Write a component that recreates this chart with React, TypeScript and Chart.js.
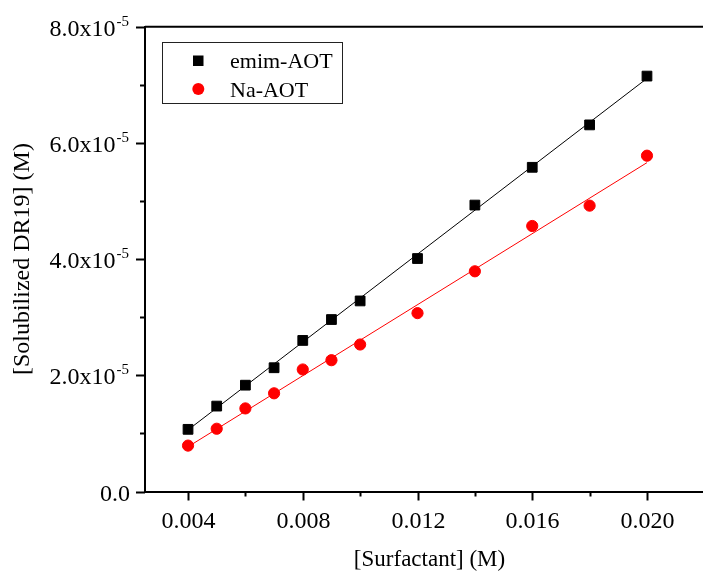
import React, { useEffect, useRef } from "react";
import { Chart, registerables } from "chart.js";

Chart.register(...registerables);

// ---- data (concentrations in M; solubilized DR19 in units of 1e-5 M) ----
const surfactant = [0.004, 0.005, 0.006, 0.007, 0.008, 0.009, 0.010, 0.012, 0.014, 0.016, 0.018, 0.020];
const emimAOT = [1.07, 1.47, 1.83, 2.13, 2.60, 2.96, 3.28, 4.01, 4.93, 5.58, 6.31, 7.15];
const naAOT = [0.79, 1.08, 1.43, 1.69, 2.10, 2.26, 2.53, 3.07, 3.79, 4.57, 4.92, 5.78];
const fitX = [0.004, 0.020];
const emimFit = [1.06, 7.11];
const naFit = [0.77, 5.66];
const Y_UNIT = 1e-5;

const seriesLabels = ["emim-AOT", "Na-AOT"];
const xTickValues = [0.004, 0.006, 0.008, 0.010, 0.012, 0.014, 0.016, 0.018, 0.020];
const xTickLabels = ["0.004", "", "0.008", "", "0.012", "", "0.016", "", "0.020"];
const yTickValues = [0, 1, 2, 3, 4, 5, 6, 7, 8];
const yTickLabels = ["0.0", "", "2.0", "", "4.0", "", "6.0", "", "8.0"];
const yExponent = "-5";
const xTitle = "[Surfactant] (M)";
const yTitle = "[Solubilized DR19] (M)";

const FONT = '"Liberation Serif", "Times New Roman", serif';

const decor = {
  id: "decor",
  afterDraw(chart: any) {
    const { ctx, chartArea } = chart;
    const xs = chart.scales.x;
    const ys = chart.scales.y;
    ctx.save();
    ctx.strokeStyle = "#000";
    ctx.fillStyle = "#000";

    // top frame line
    ctx.lineWidth = 2;
    ctx.beginPath();
    ctx.moveTo(chartArea.left, chartArea.top);
    ctx.lineTo(chartArea.right, chartArea.top);
    ctx.stroke();

    // x tick marks + labels
    xTickValues.forEach((v, i) => {
      const px = Math.round(xs.getPixelForValue(v)) + 0.5;
      const major = xTickLabels[i] !== "";
      ctx.lineWidth = 2;
      ctx.beginPath();
      ctx.moveTo(px, chartArea.bottom);
      ctx.lineTo(px, chartArea.bottom + (major ? 9 : 5));
      ctx.stroke();
      if (major) {
        ctx.font = `24px ${FONT}`;
        ctx.textAlign = "center";
        ctx.textBaseline = "alphabetic";
        ctx.fillText(xTickLabels[i], px, chartArea.bottom + 36);
      }
    });

    // y tick marks + labels
    yTickValues.forEach((v, i) => {
      const py = Math.round(ys.getPixelForValue(v * Y_UNIT)) + 0.5;
      const major = yTickLabels[i] !== "";
      ctx.lineWidth = 2;
      ctx.beginPath();
      ctx.moveTo(chartArea.left, py);
      ctx.lineTo(chartArea.left - (major ? 9 : 5), py);
      ctx.stroke();
      if (major) {
        ctx.textAlign = "right";
        ctx.textBaseline = "alphabetic";
        const rightX = chartArea.left - 16;
        if (v === 0) {
          ctx.font = `24px ${FONT}`;
          ctx.fillText(yTickLabels[i], rightX + 1, py + 8.5);
        } else {
          ctx.font = `15px ${FONT}`;
          const supW = ctx.measureText(yExponent).width;
          ctx.fillText(yExponent, rightX, py - 2);
          ctx.font = `24px ${FONT}`;
          ctx.fillText(yTickLabels[i] + "x10", rightX - supW - 1, py + 8.5);
        }
      }
    });

    // legend
    const lx = 162.5, ly = 42.5, lw = 180, lh = 61;
    ctx.lineWidth = 1;
    ctx.strokeStyle = "#222";
    ctx.strokeRect(lx, ly, lw, lh);
    ctx.fillStyle = "#000";
    ctx.fillRect(193, 55.5, 10.5, 10.5);
    ctx.fillStyle = "#ff0000";
    ctx.beginPath();
    ctx.arc(198.3, 89, 6, 0, Math.PI * 2);
    ctx.fill();
    ctx.fillStyle = "#000";
    ctx.font = `22px ${FONT}`;
    ctx.textAlign = "left";
    ctx.textBaseline = "alphabetic";
    ctx.fillText(chart.data.datasets[0].label, 230, 68);
    ctx.fillText(chart.data.datasets[1].label, 230, 96.5);
    ctx.restore();
  },
};

export default function App() {
  const ref = useRef<HTMLCanvasElement | null>(null);

  useEffect(() => {
    if (!ref.current) return;
    const chart = new Chart(ref.current, {
      type: "scatter",
      data: {
        datasets: [
          {
            type: "scatter",
            label: seriesLabels[0],
            data: surfactant.map((x, i) => ({ x, y: emimAOT[i] * Y_UNIT })),
            pointStyle: "rect",
            pointRadius: 6.9,
            pointBorderWidth: 1,
            backgroundColor: "#000",
            borderColor: "#000",
            showLine: false,
          },
          {
            type: "scatter",
            label: seriesLabels[1],
            data: surfactant.map((x, i) => ({ x, y: naAOT[i] * Y_UNIT })),
            pointStyle: "circle",
            pointRadius: 5.6,
            pointBorderWidth: 1,
            backgroundColor: "#ff0000",
            borderColor: "#ff0000",
            showLine: false,
          },
          {
            type: "line",
            label: "emim-AOT fit",
            data: fitX.map((x, i) => ({ x, y: emimFit[i] * Y_UNIT })),
            borderColor: "#000",
            borderWidth: 1,
            pointRadius: 0,
            fill: false,
          },
          {
            type: "line",
            label: "Na-AOT fit",
            data: fitX.map((x, i) => ({ x, y: naFit[i] * Y_UNIT })),
            borderColor: "#ff0000",
            borderWidth: 1,
            pointRadius: 0,
            fill: false,
          },
        ] as any,
      },
      options: {
        animation: false,
        responsive: false,
        devicePixelRatio: 1,
        events: [],
        layout: { padding: { top: 26.7, left: 0, right: 0, bottom: 0 } },
        plugins: {
          legend: { display: false },
          tooltip: { enabled: false },
        },
        scales: {
          x: {
            type: "linear",
            min: 0.0025,
            max: 0.02234,
            afterFit: (s: any) => {
              s.height = 82.5;
            },
            ticks: { display: false },
            grid: { display: false, drawTicks: false },
            border: { display: true, color: "#000", width: 2 },
            title: {
              display: true,
              text: xTitle,
              color: "#000",
              font: { family: FONT, size: 23, weight: "normal" },
              padding: { top: 0, bottom: 0 },
            },
          },
          y: {
            type: "linear",
            min: 0,
            max: 8 * Y_UNIT,
            afterFit: (s: any) => {
              s.width = 145;
            },
            ticks: { display: false },
            grid: { display: false, drawTicks: false },
            border: { display: true, color: "#000", width: 2 },
            title: {
              display: true,
              text: yTitle,
              color: "#000",
              font: { family: FONT, size: 24, weight: "normal" },
              padding: { top: 8, bottom: 0 },
            },
          },
        },
      } as any,
      plugins: [decor],
    });
    return () => chart.destroy();
  }, []);

  return (
    <div
      style={{
        position: "fixed",
        left: 0,
        top: 0,
        width: 703,
        height: 574,
        overflow: "hidden",
        background: "#fff",
      }}
    >
      <canvas
        ref={ref}
        width={722}
        height={574}
        style={{ display: "block", width: 722, height: 574 }}
      />
    </div>
  );
}
